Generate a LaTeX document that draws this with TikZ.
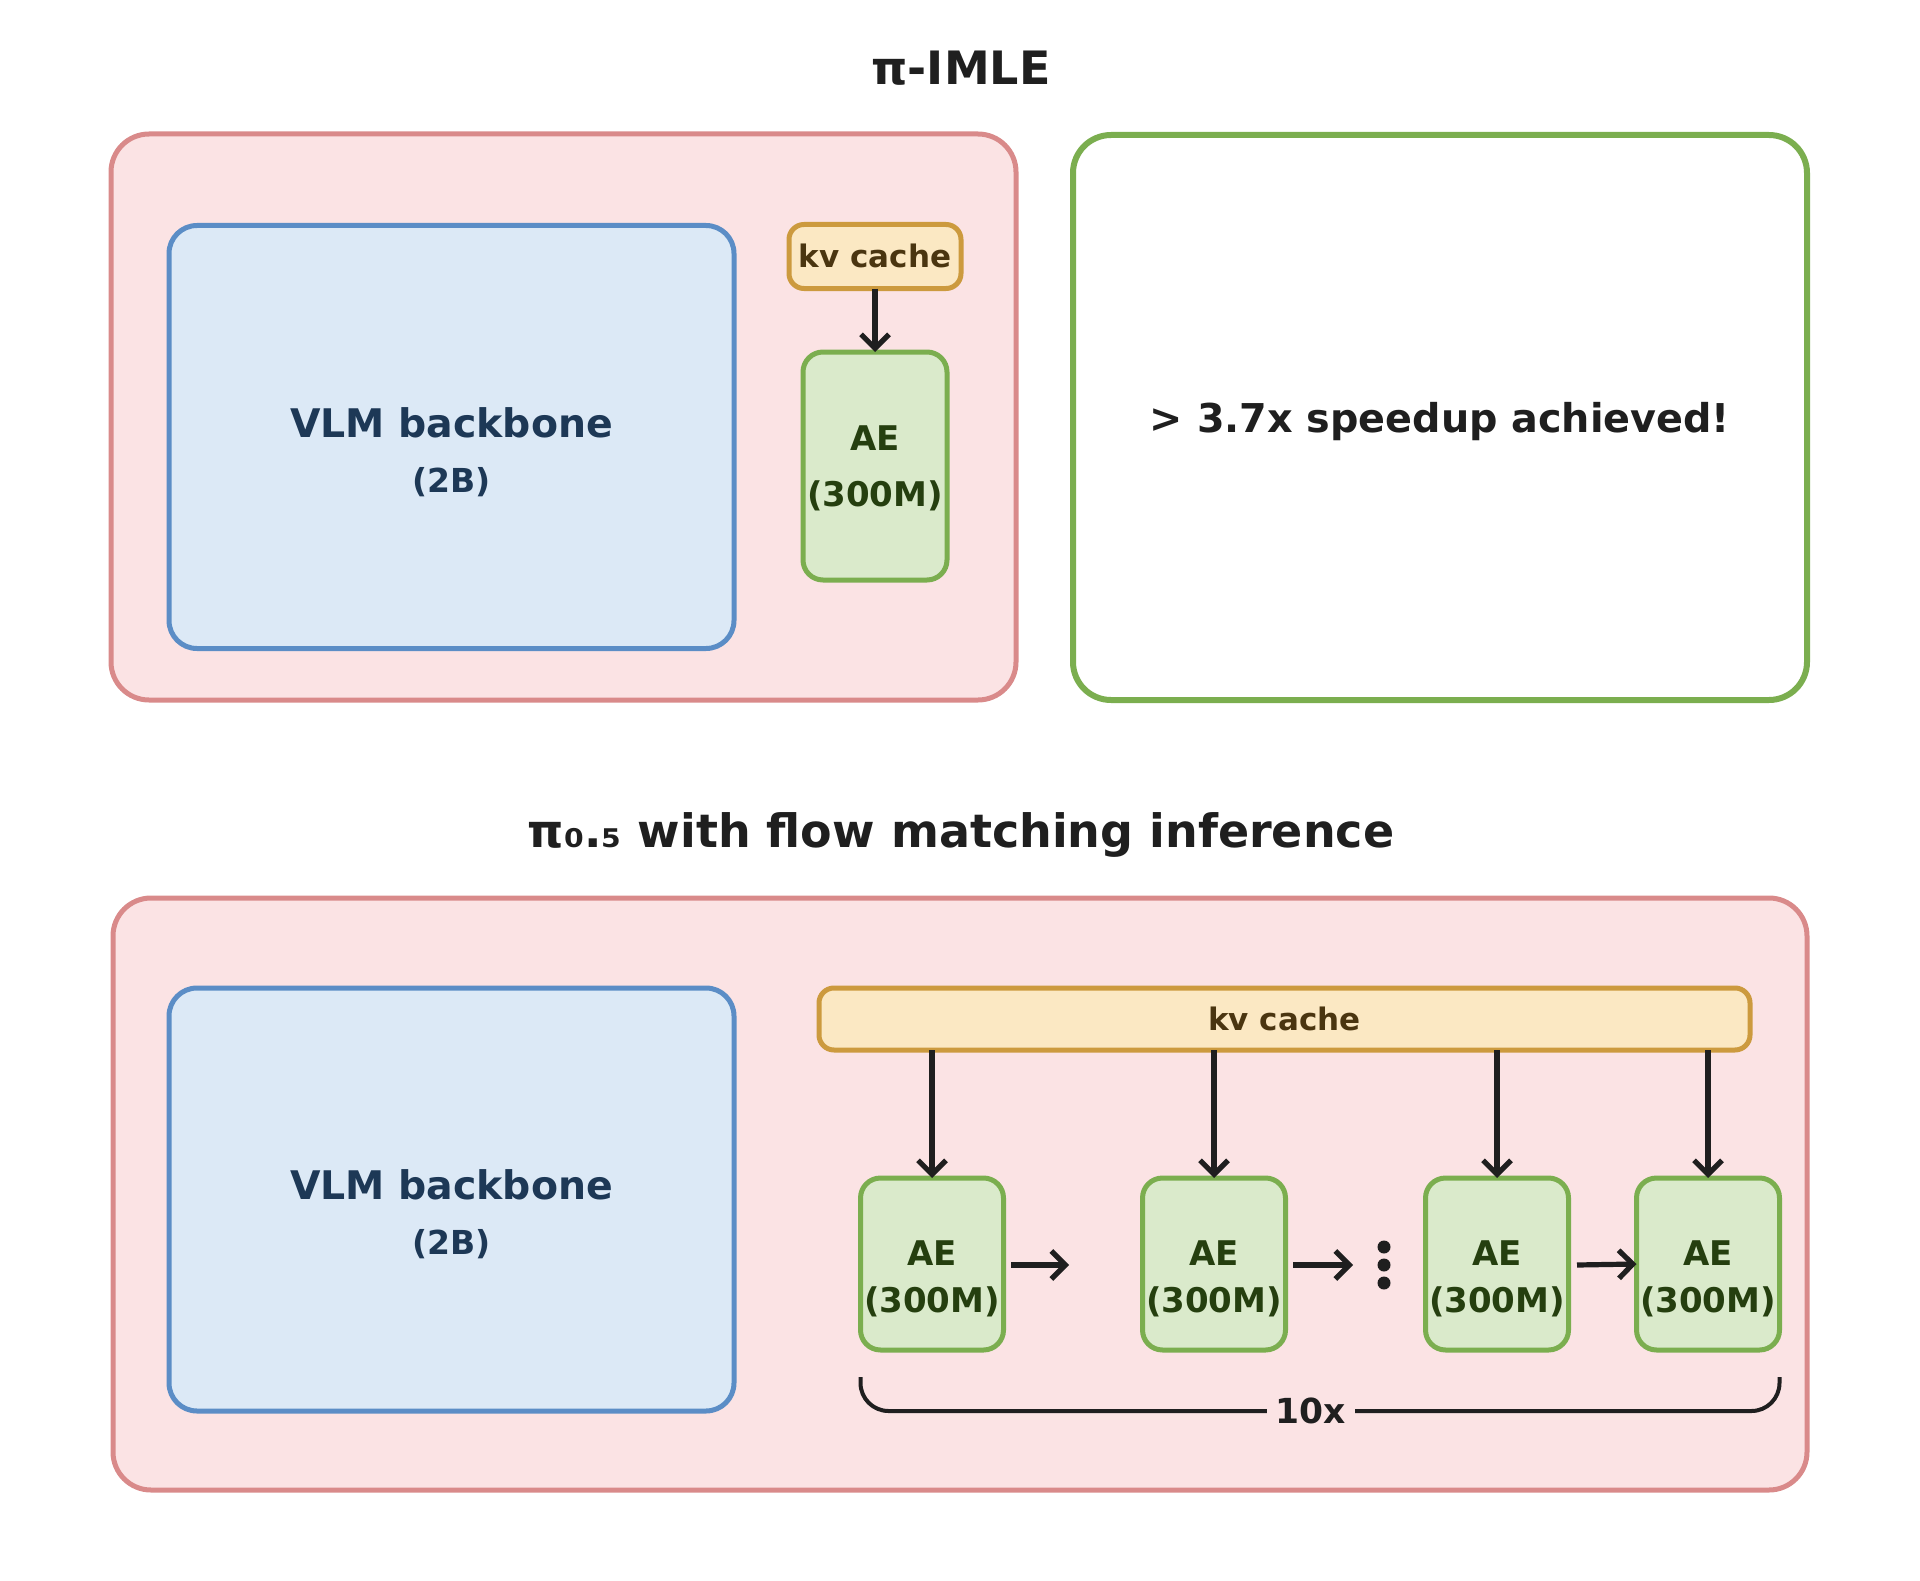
\documentclass[tikz,border=0pt]{standalone}
\usepackage{fontspec}
\setmainfont{DejaVu Sans}
\usetikzlibrary{arrows.meta,calc}
\definecolor{pinkfill}{HTML}{FBE3E4}
\definecolor{pinkdraw}{HTML}{D98A8A}
\definecolor{bluefill}{HTML}{DCE9F6}
\definecolor{bluedraw}{HTML}{5B8DC6}
\definecolor{kvfill}{HTML}{FBE8C3}
\definecolor{kvdraw}{HTML}{CC9A3E}
\definecolor{greenfill}{HTML}{DAEACB}
\definecolor{greendraw}{HTML}{7BAE4F}
\definecolor{titlecol}{HTML}{1F1F1F}
\definecolor{vlmtext}{HTML}{1D3856}
\definecolor{aetext}{HTML}{253F0F}
\definecolor{kvtext}{HTML}{4A3510}
\newcommand{\fsz}[1]{\fontsize{#1}{#1}\selectfont\bfseries}
\begin{document}
\begin{tikzpicture}[x=1pt,y=-1pt,
  box/.style={rectangle,inner sep=0pt,outer sep=0pt},
  outerbox/.style={box,fill=pinkfill,draw=pinkdraw,line width=5pt,rounded corners=38pt},
  vlmbox/.style={box,fill=bluefill,draw=bluedraw,line width=5pt,rounded corners=28pt,minimum width=565pt,minimum height=423pt},
  kvbox/.style={box,fill=kvfill,draw=kvdraw,line width=5pt,rounded corners=15pt},
  aebox/.style={box,fill=greenfill,draw=greendraw,line width=5pt,rounded corners=20pt},
  lbl/.style={inner sep=0pt,anchor=base},
  titlelbl/.style={lbl,text=titlecol,font=\fsz{46}},
  vlmlbl/.style={lbl,text=vlmtext,font=\fsz{39.4}},
  vlmsub/.style={lbl,text=vlmtext,font=\fsz{33}},
  aelbl/.style={lbl,text=aetext,font=\fsz{34}},
  kvlbl/.style={lbl,text=kvtext,font=\fsz{31}},
  arr/.style={line width=5.2pt,draw=titlecol,-{Straight Barb[length=14pt,width=28pt,line join=miter]}},
]
\useasboundingbox (0,0) rectangle (1920,1581);

% ---------- top panel ----------
\node[titlelbl] (t1) at (961,85) {π-IMLE};
\node[outerbox,minimum width=905pt,minimum height=566pt] (pk1) at (563.5,417) {};
\node[vlmbox] (vlm1) at (451.5,437) {};
\node[vlmlbl] (vlm1a) at (451.5,437) {VLM backbone};
\node[vlmsub] (vlm1b) at (451.5,492) {(2B)};
\node[kvbox,minimum width=172pt,minimum height=64pt] (kv1) at (875,256.5) {};
\node[kvlbl] (kv1t) at (875,268) {kv cache};
\node[aebox,minimum width=144pt,minimum height=228pt] (ae0) at (875,466) {};
\node[aelbl] (ae0a) at (875,450) {AE};
\node[aelbl] (ae0b) at (875,506) {(300M)};
\draw[arr] (kv1.south) -- (ae0.north);

\node[box,draw=greendraw,fill=white,line width=6pt,rounded corners=38pt,minimum width=734pt,minimum height=565pt] (gb) at (1440,417.5) {};
\node[vlmlbl,text=titlecol,font=\fsz{39.7}] (speed) at (1440,432) {> 3.7x speedup achieved!};

% ---------- bottom panel ----------
\node[titlelbl] (t2) at (961,847) {π₀.₅ with flow matching inference};
\node[outerbox,minimum width=1694pt,minimum height=592pt] (pk2) at (960,1194) {};
\node[vlmbox] (vlm2) at (451.5,1199.5) {};
\node[vlmlbl] (vlm2a) at (451.5,1199) {VLM backbone};
\node[vlmsub] (vlm2b) at (451.5,1254) {(2B)};
\node[kvbox,minimum width=931pt,minimum height=62pt] (kv2) at (1284.5,1019) {};
\node[kvlbl] (kv2t) at (1284.5,1030) {kv cache};

\foreach \i/\x in {1/932,2/1214,3/1497,4/1708}{
  \node[aebox,minimum width=143pt,minimum height=172pt] (ae\i) at (\x,1264) {};
  \node[aelbl] (ae\i a) at (\x,1265) {AE};
  \node[aelbl] (ae\i b) at (\x,1312) {(300M)};
  \draw[arr] (kv2.south -| ae\i.north) -- (ae\i.north);
}

\coordinate (h1s) at (1011,1265);
\coordinate (h1e) at (1069,1265);
\coordinate (h2s) at (1293,1265);
\coordinate (h2e) at (1353,1265);
\coordinate (h3s) at (1577,1265);
\draw[arr] (h1s) -- (h1e);
\draw[arr] (h2s) -- (h2e);
\draw[arr] (h3s) -- (ae4.west);

\foreach \y/\n in {1247/d1,1265/d2,1283/d3}{
  \fill[titlecol] (1384,\y) circle[radius=6.5pt] coordinate (\n);
}

% brace
\coordinate (bl) at (ae1.west |- 0,1377);
\coordinate (br) at (ae4.east |- 0,1377);
\draw[line width=4pt,draw=titlecol,rounded corners=28pt] (bl) -- (ae1.west |- 0,1411) -- (ae4.east |- 0,1411) -- (br);
\node[fill=pinkfill,inner xsep=9pt,inner ysep=4pt,text=titlecol,font=\fsz{34.5}] (ten) at (1311,1411) {10x};
\end{tikzpicture}
\end{document}
